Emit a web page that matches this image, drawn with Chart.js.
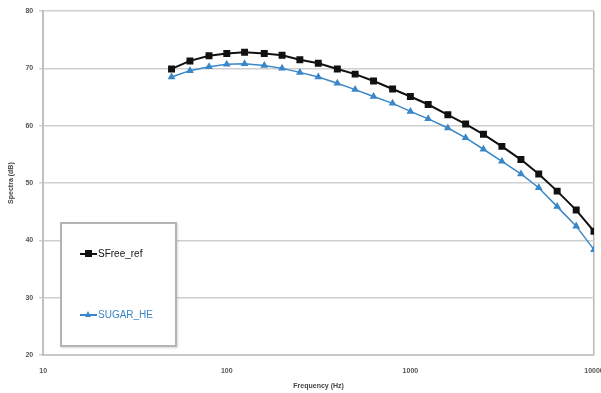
<!DOCTYPE html>
<html>
<head>
<meta charset="utf-8">
<script src="https://cdn.jsdelivr.net/npm/chart.js@4/dist/chart.umd.min.js"></script>
<style>
  html, body { margin: 0; padding: 0; background: #fff; }
  #wrap { position: relative; width: 601px; height: 393px; }
  #legend { position: absolute; left: 60px; top: 222px; width: 113px; height: 121px;
    border: 2px solid #b4b4b4; background: #fff; font-family: "Liberation Sans", Arial, sans-serif;
    font-size: 10px; box-shadow: 1px 1px 2px rgba(0,0,0,0.15); }
  .entry { position: absolute; left: 18px; display: flex; align-items: center; }
  .entry .ln { position: relative; width: 17px; height: 2px; margin-right: 1px; }
  .entry .mk { position: absolute; left: 5px; }
</style>
</head>
<body>
<div id="wrap">
  <canvas id="c" width="601" height="393"></canvas>
  <div id="legend"></div>
</div>
<script>
const frequencies = [50, 63, 80, 100, 125, 160, 200, 250, 315, 400, 500, 630, 800, 1000, 1250, 1600, 2000, 2500, 3150, 4000, 5000, 6300, 8000, 10000];
const sfreeRef = [69.9, 71.3, 72.2, 72.6, 72.8, 72.6, 72.3, 71.5, 70.9, 69.9, 69.0, 67.8, 66.4, 65.1, 63.7, 61.9, 60.3, 58.5, 56.4, 54.1, 51.6, 48.6, 45.3, 41.6];
const sugarHE = [68.5, 69.6, 70.3, 70.7, 70.8, 70.5, 70.0, 69.3, 68.5, 67.4, 66.3, 65.1, 63.9, 62.5, 61.2, 59.6, 57.9, 55.9, 53.8, 51.6, 49.2, 45.9, 42.5, 38.4];
const xTicks = [10, 100, 1000, 10000];
const seriesNames = ["SFree_ref", "SUGAR_HE"];
const xTitle = "Frequency (Hz)";
const yTitle = "Spectra (dB)";

const BLACK = "#111111";
const BLUE = "#3a87c8";
const tickFont = { family: "Liberation Sans", size: 7, weight: "bold" };

const toPts = arr => arr.map((v, i) => ({ x: frequencies[i], y: v }));

new Chart(document.getElementById("c"), {
  type: "line",
  data: {
    datasets: [
      { label: seriesNames[0], data: toPts(sfreeRef), borderColor: BLACK, backgroundColor: BLACK,
        borderWidth: 2, pointStyle: "rect", pointRadius: 3.5, pointHoverRadius: 3.5, tension: 0 },
      { label: seriesNames[1], data: toPts(sugarHE), borderColor: BLUE, backgroundColor: BLUE,
        borderWidth: 1.5, pointStyle: "triangle", pointRadius: 3, pointHoverRadius: 3, tension: 0 }
    ]
  },
  options: {
    responsive: false,
    animation: false,
    devicePixelRatio: 1,
    layout: { padding: { left: 7, right: 0, top: 11, bottom: 0 } },
    plugins: { legend: { display: false }, tooltip: { enabled: false } },
    scales: {
      x: {
        type: "logarithmic", min: 10, max: 10000,
        afterBuildTicks: axis => { axis.ticks = xTicks.map(v => ({ value: v })); },
        afterFit: s => { s.paddingRight = 7; },
        ticks: { font: tickFont, color: "#555", maxRotation: 0, autoSkip: false, padding: 12,
          callback: v => String(v) },
        grid: { color: ctx => (ctx.tick && ctx.tick.value === 10000) ? "#b8b8b8" : "rgba(0,0,0,0)",
          lineWidth: 1.5, drawTicks: false },
        border: { color: "#c8c8c8", width: 2 },
        title: { display: true, text: xTitle, font: tickFont, color: "#444", padding: { top: -6, bottom: 3 } }
      },
      y: {
        min: 20, max: 80,
        ticks: { stepSize: 10, font: tickFont, color: "#555", padding: 6 },
        grid: { color: "#cfcfcf", lineWidth: 1.5, tickLength: 4 },
        border: { color: "#c0c0c0", width: 2 },
        title: { display: true, text: yTitle, font: tickFont, color: "#444", padding: { top: 0, bottom: 4 } }
      }
    }
  }
});

// HTML legend built from the series names
const legend = document.getElementById("legend");
const entries = [
  { name: seriesNames[0], color: BLACK, top: 24, marker: '<div class="mk" style="width:7px;height:7px;background:' + BLACK + ';top:-2.5px;"></div>' },
  { name: seriesNames[1], color: BLUE, top: 85, marker: '<div class="mk" style="width:0;height:0;border-left:3.5px solid transparent;border-right:3.5px solid transparent;border-bottom:6px solid ' + BLUE + ';top:-3px;"></div>' }
];
entries.forEach(e => {
  const d = document.createElement("div");
  d.className = "entry";
  d.style.top = e.top + "px";
  d.innerHTML = '<div class="ln" style="background:' + e.color + '">' + e.marker + '</div><span style="color:' + e.color + '">' + e.name + '</span>';
  legend.appendChild(d);
});
</script>
</body>
</html>
